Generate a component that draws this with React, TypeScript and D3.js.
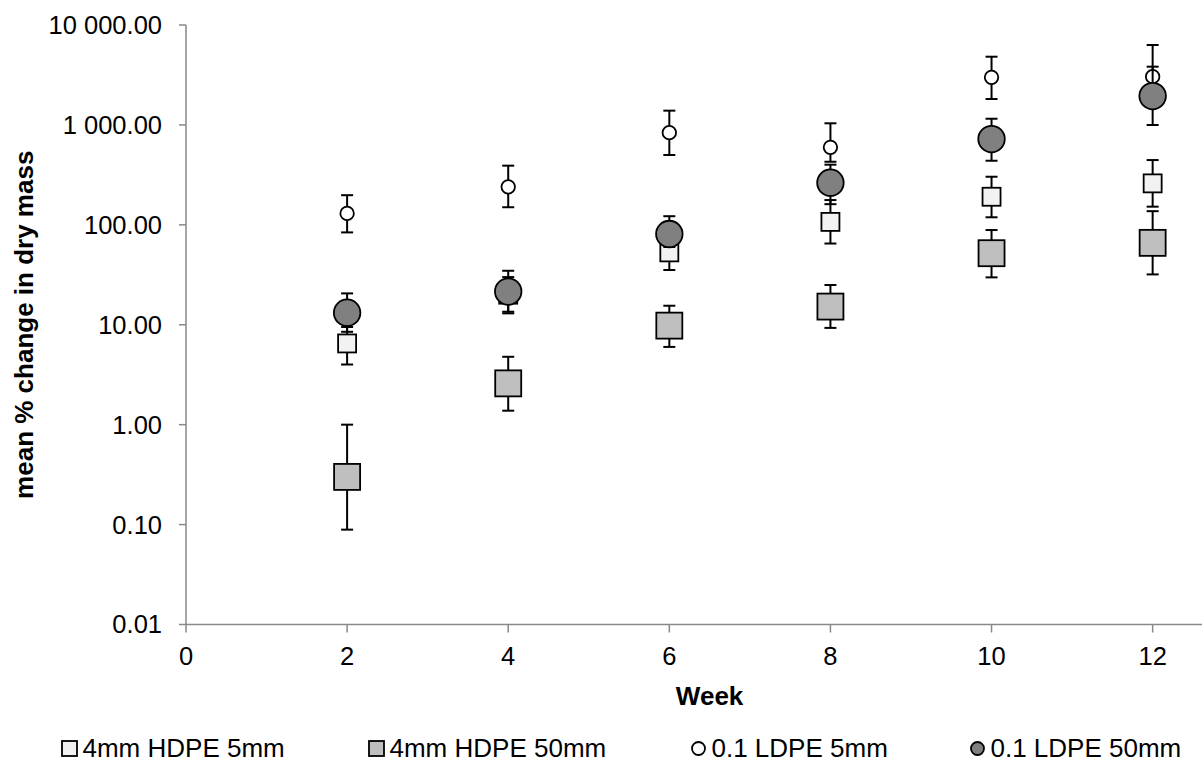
import * as d3 from "d3";
import React from 'react'

const weeks = [2, 4, 6, 8, 10, 12]

// 4mm HDPE 5mm (white square)
const hdpe5Mean = [6.5, 20, 53, 107, 191, 260]
const hdpe5Low = [4.0, 13.5, 35.3, 65, 119, 152]
const hdpe5High = [9.5, 30, 80, 177, 303, 445]

// 4mm HDPE 50mm (grey square)
const hdpe50Mean = [0.30, 2.59, 9.8, 15.2, 52, 66]
const hdpe50Low = [0.089, 1.38, 6.0, 9.3, 29.8, 31.9]
const hdpe50High = [1.0, 4.78, 15.5, 25, 88.7, 137]

// 0.1 LDPE 5mm (open circle)
const ldpe5Mean = [130, 240, 836, 597, 2993, 3040]
const ldpe5Low = [84, 150, 500, 428, 1816, 2000]
const ldpe5High = [198, 391, 1389, 1038, 4816, 6310]

// 0.1 LDPE 50mm (dark circle)
const ldpe50Mean = [13.2, 21.5, 81, 264, 722, 1945]
const ldpe50Low = [8.5, 13.0, 60, 161, 438, 998]
const ldpe50High = [20.6, 34.7, 122, 400, 1153, 3828]

const xTicks = [0, 2, 4, 6, 8, 10, 12]
const yTicks = [0.01, 0.1, 1, 10, 100, 1000, 10000]

type Series = { name: string, shape: 'square' | 'circle', size: number, fill: string, mean: number[], low: number[], high: number[] }

const series: Series[] = [
  { name: "4mm HDPE 5mm", shape: 'square', size: 18, fill: "#f2f2f2", mean: hdpe5Mean, low: hdpe5Low, high: hdpe5High },
  { name: "4mm HDPE 50mm", shape: 'square', size: 26, fill: "#bfbfbf", mean: hdpe50Mean, low: hdpe50Low, high: hdpe50High },
  { name: "0.1 LDPE 5mm", shape: 'circle', size: 13.5, fill: "#ffffff", mean: ldpe5Mean, low: ldpe5Low, high: ldpe5High },
  { name: "0.1 LDPE 50mm", shape: 'circle', size: 26.5, fill: "#808080", mean: ldpe50Mean, low: ldpe50Low, high: ldpe50High },
]

const legendX = [69.5, 376.5, 698.5, 977.5]

const W = 1202, H = 762
// plot runs past the right edge (x max 13, cropped)
const m = { l: 186, r: 1233.2, t: 25, b: 624.5 }
const font = "'Liberation Sans', Arial, sans-serif"
const axisColor = "#898989"

const fmt = d3.formatLocale({ decimal: ".", thousands: " ", grouping: [3], currency: ["", ""] }).format(",.2f")

const Marker = ({ s, cx, cy, size }: { s: Series, cx: number, cy: number, size: number }) =>
  s.shape === 'square'
    ? <rect x={cx - size / 2} y={cy - size / 2} width={size} height={size} fill={s.fill} stroke="#000" strokeWidth={1.8} />
    : <circle cx={cx} cy={cy} r={size / 2} fill={s.fill} stroke="#000" strokeWidth={1.8} />

const App: React.FC = () => {
  const x = d3.scaleLinear([0, 13], [m.l, m.r])
  const y = d3.scaleLog([0.01, 10000], [m.b, m.t])

  return (
    <svg width={W} height={H} style={{ position: "absolute", left: 0, top: 0, background: "#fff" }} fontFamily={font}>
      {/* axes */}
      <line x1={m.l} x2={W} y1={m.b} y2={m.b} stroke={axisColor} strokeWidth={1.5} />
      <line x1={m.l} x2={m.l} y1={m.t} y2={m.b} stroke={axisColor} strokeWidth={1.5} />
      {yTicks.map(t => (
        <g key={"y" + t}>
          <line x1={m.l - 7} x2={m.l} y1={y(t)} y2={y(t)} stroke={axisColor} strokeWidth={1.5} />
          <text x={162} y={y(t)} dy="0.35em" textAnchor="end" fontSize={25.5} fill="#000">{fmt(t)}</text>
        </g>
      ))}
      {xTicks.map(t => (
        <g key={"x" + t}>
          <line x1={x(t)} x2={x(t)} y1={m.b} y2={m.b + 8} stroke={axisColor} strokeWidth={1.5} />
          <text x={x(t)} y={665} textAnchor="middle" fontSize={25.5} fill="#000">{t}</text>
        </g>
      ))}
      <text x={(m.l + m.r) / 2} y={705} textAnchor="middle" fontSize={26} fontWeight="bold">Week</text>
      <text transform={`translate(33, ${(m.t + m.b) / 2}) rotate(-90)`} textAnchor="middle" fontSize={26} fontWeight="bold">mean % change in dry mass</text>

      {/* series: error bars then markers */}
      {series.map(s => (
        <g key={s.name}>
          {weeks.map((w, i) => (
            <g key={w} stroke="#000" strokeWidth={2}>
              <line x1={x(w)} x2={x(w)} y1={y(s.low[i])} y2={y(s.high[i])} />
              <line x1={x(w) - 6} x2={x(w) + 6} y1={y(s.low[i])} y2={y(s.low[i])} />
              <line x1={x(w) - 6} x2={x(w) + 6} y1={y(s.high[i])} y2={y(s.high[i])} />
            </g>
          ))}
          {weeks.map((w, i) => <Marker key={"m" + w} s={s} cx={x(w)} cy={y(s.mean[i])} size={s.size} />)}
        </g>
      ))}

      {/* legend */}
      {series.map((s, i) => (
        <g key={"leg" + s.name}>
          <Marker s={s} cx={legendX[i]} cy={748.5} size={s.shape === 'square' ? 15 : 13} />
          <text x={legendX[i] + 13} y={757} fontSize={26}>{s.name}</text>
        </g>
      ))}
    </svg>
  )
}

export default App
